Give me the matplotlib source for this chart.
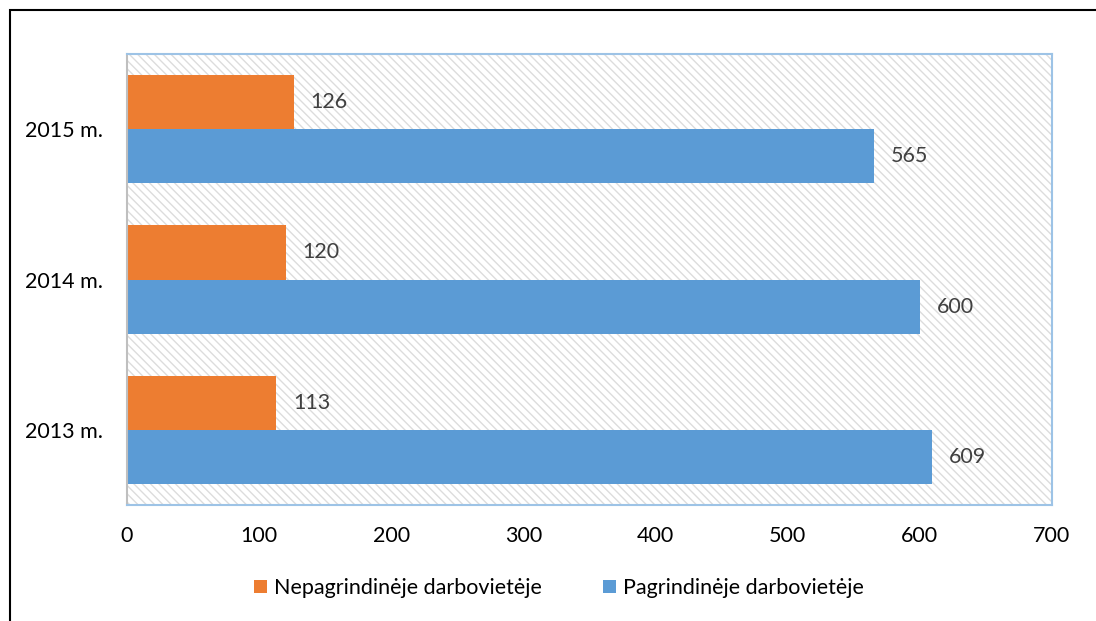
import numpy as np
import matplotlib.pyplot as plt
from matplotlib.patches import Rectangle

plt.rcParams['font.family'] = ['Lato', 'DejaVu Sans']
plt.rcParams['hatch.linewidth'] = 1.0

years = ['2013 m.', '2014 m.', '2015 m.']
secondary = [113, 120, 126]
primary = [609, 600, 565]
series_names = ['Nepagrindinėje darbovietėje', 'Pagrindinėje darbovietėje']
orange = '#ED7D31'
blue = '#5B9BD5'

fig = plt.figure(figsize=(10.96, 6.21), dpi=100)
ax = fig.add_axes([127 / 1096, 1 - 505 / 621, 925 / 1096, 451 / 621])

# hatched plot area background
ax.add_patch(Rectangle((0, 0), 1, 1, transform=ax.transAxes, facecolor='white',
                       edgecolor='#dcdcdc', hatch='\\\\\\\\', lw=0, zorder=0))

y = np.arange(len(years))
h = 0.36
b1 = ax.barh(y + h / 2, secondary, height=h, color=orange, label=series_names[0], zorder=2)
b2 = ax.barh(y - h / 2, primary, height=h, color=blue, label=series_names[1], zorder=2)

for bars in (b1, b2):
    for bar in bars:
        w = bar.get_width()
        ax.text(w + 13, bar.get_y() + bar.get_height() / 2, f'{w:.0f}',
                va='center', ha='left', fontsize=15.5, color='#404040')

ax.set_xlim(0, 700)
ax.set_ylim(-0.5, 2.5)
ax.set_xticks(range(0, 701, 100))
ax.set_yticks(y)
ax.set_yticklabels(years)
ax.tick_params(length=0, labelsize=15.5, colors='black')
ax.tick_params(axis='x', pad=15)
ax.tick_params(axis='y', pad=17)
for side in ('top', 'right', 'bottom'):
    ax.spines[side].set_color('#9DC3E6')
    ax.spines[side].set_linewidth(1.5)
ax.spines['left'].set_color('#bfbfbf')
ax.spines['left'].set_linewidth(1.5)

ax.legend(loc='center', bbox_to_anchor=(0.467, -0.184), ncol=2, frameon=False,
          fontsize=15.5, handlelength=0.6, handleheight=0.6, handletextpad=0.35,
          columnspacing=2.8)

# outer frame
fig.add_artist(Rectangle((10 / 1096, -0.1), 1.1, 1 - 10 / 621 + 0.1,
                         transform=fig.transFigure, fill=False,
                         edgecolor='black', lw=1.5, clip_on=False))

fig.savefig('out.png', dpi=100)
